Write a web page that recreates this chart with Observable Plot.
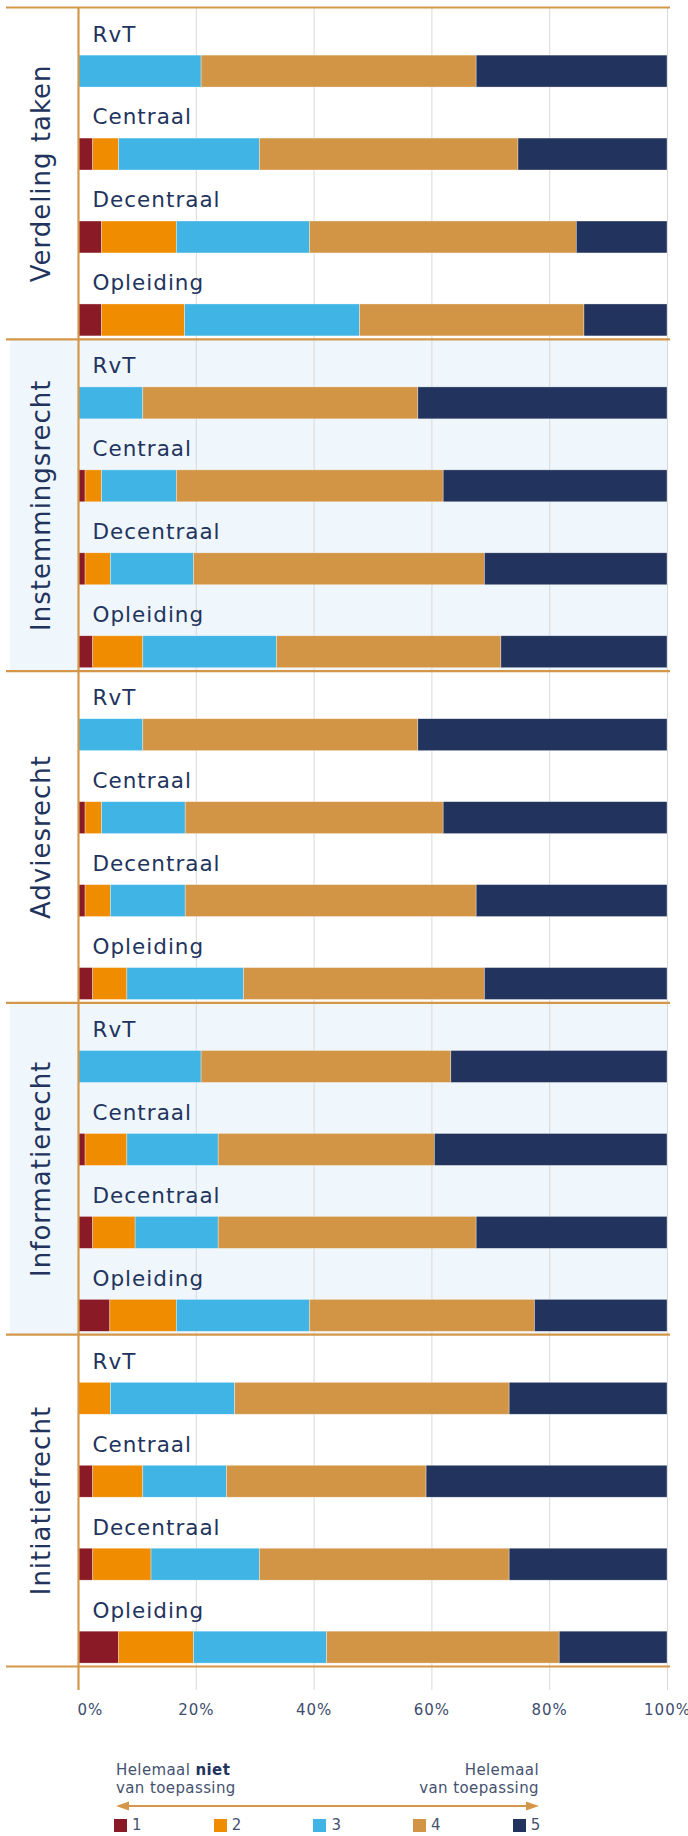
<!DOCTYPE html>
<html>
<head>
<meta charset="utf-8">
<script src="https://cdn.jsdelivr.net/npm/d3@7"></script>
<script src="https://cdn.jsdelivr.net/npm/@observablehq/plot@0.6"></script>
<style>
  html, body { margin: 0; padding: 0; background: #ffffff; }
  body { width: 688px; font-family: "DejaVu Sans", sans-serif; }
  #chart svg { display: block; }
  #chart svg text { letter-spacing: 1px; }
  #legend { position: relative; width: 688px; height: 106px; overflow: hidden; }
  .lg-text { position: absolute; font-size: 15px; line-height: 18px; color: #45526f; letter-spacing: 0.4px; white-space: nowrap; }
  .lg-text b { color: #22345d; }
  .sw { position: absolute; display: flex; align-items: flex-start; font-size: 15px; color: #45526f; line-height: 15px; }
  .sw span.box { display: inline-block; width: 13px; height: 13px; margin-right: 5px; margin-top: 1px; }
</style>
</head>
<body>
<div id="chart"></div>
<div id="legend">
  <div class="lg-text" style="left:116px; top:31px;">Helemaal <b>niet</b><br>van toepassing</div>
  <div class="lg-text" style="right:149px; top:31px; text-align:right;">Helemaal<br>van toepassing</div>
  <svg style="position:absolute; left:114px; top:70px;" width="427" height="12">
    <line x1="10" y1="6" x2="417" y2="6" stroke="#d4974a" stroke-width="2"></line>
    <path d="M2,6 L15,1.5 L15,10.5 Z" fill="#d4974a"></path>
    <path d="M425,6 L412,1.5 L412,10.5 Z" fill="#d4974a"></path>
  </svg>
</div>
<script>
// ---- data ----
const groups = ["Verdeling taken", "Instemmingsrecht", "Adviesrecht", "Informatierecht", "Initiatiefrecht"];
const rows = ["RvT", "Centraal", "Decentraal", "Opleiding"];
const scores = ["1", "2", "3", "4", "5"];
const scoreColors = ["#8a1b26", "#f08c00", "#41b4e6", "#d29546", "#22345d"];
const shadedGroups = ["Instemmingsrecht", "Informatierecht"];
const xTicks = [0, 0.2, 0.4, 0.6, 0.8, 1];

// percentages per row: [score1, score2, score3, score4, score5]
const verdelingTaken = [
  [0, 0, 20.9, 46.7, 32.4],
  [2.5, 4.4, 23.9, 43.9, 25.3],
  [4.0, 12.7, 22.6, 45.3, 15.4],
  [4.0, 14.1, 29.7, 38.1, 14.1]
];
const instemmingsrecht = [
  [0, 0, 11.0, 46.7, 42.3],
  [1.2, 2.8, 12.7, 45.3, 38.0],
  [1.2, 4.3, 14.1, 49.4, 31.0],
  [2.5, 8.5, 22.7, 38.1, 28.2]
];
const adviesrecht = [
  [0, 0, 11.0, 46.7, 42.3],
  [1.2, 2.8, 14.2, 43.8, 38.0],
  [1.2, 4.3, 12.7, 49.4, 32.4],
  [2.5, 5.8, 19.8, 40.9, 31.0]
];
const informatierecht = [
  [0, 0, 20.9, 42.4, 36.7],
  [1.2, 7.1, 15.5, 36.7, 39.5],
  [2.5, 7.2, 14.1, 43.8, 32.4],
  [5.4, 11.3, 22.6, 38.2, 22.5]
];
const initiatiefrecht = [
  [0, 5.5, 21.1, 46.6, 26.8],
  [2.5, 8.5, 14.2, 33.9, 40.9],
  [2.5, 9.9, 18.4, 42.4, 26.8],
  [6.9, 12.7, 22.6, 39.5, 18.3]
];

// ---- tables built from the arrays ----
const groupValues = [verdelingTaken, instemmingsrecht, adviesrecht, informatierecht, initiatiefrecht];
const nRows = rows.length;
const table = [];
groups.forEach((g, gi) => rows.forEach((r, ri) => scores.forEach((s, si) => {
  table.push({group: g, row: r, score: s, value: groupValues[gi][ri][si], pos: gi * nRows + ri});
})));
const rowTable = groups.flatMap((g, gi) => rows.map((r, ri) => ({group: g, row: r, pos: gi * nRows + ri})));
const groupTable = groups.map((g, gi) => ({group: g, start: gi * nRows, end: (gi + 1) * nRows}));
const bounds = d3.range(groups.length + 1).map(i => i * nRows);

const navy = "#22345d";
const gold = "#d4974a";
const pct = d3.format(".0%");

const chart = Plot.plot({
  width: 688,
  height: 1730,
  marginTop: 7,
  marginBottom: 64,
  marginLeft: 78,
  marginRight: 21,
  style: {fontFamily: "DejaVu Sans, sans-serif", background: "transparent", overflow: "visible"},
  x: {domain: [0, 1], axis: null},
  y: {domain: [0, groups.length * nRows], reverse: true, axis: null},
  color: {domain: scores, range: scoreColors},
  marks: [
    Plot.rect(groupTable.filter(d => shadedGroups.includes(d.group)), {
      y1: "start", y2: "end", fill: "#eff6fc", insetLeft: -68
    }),
    Plot.ruleX(xTicks.slice(1), {stroke: "#d9d9d9", strokeWidth: 1, insetBottom: -24}),
    Plot.rect(table, Plot.stackX({
      offset: "normalize",
      x: "value",
      y1: d => d.pos + 0.58,
      y2: d => d.pos + 0.965,
      fill: "score",
      stroke: "#ffffff",
      strokeOpacity: 0.55,
      strokeWidth: 0.6
    })),
    Plot.ruleY(bounds, {y: d => d, stroke: gold, strokeWidth: 2.2, insetLeft: -72, insetRight: -3}),
    Plot.ruleX([0], {stroke: gold, strokeWidth: 2.2, insetBottom: -24}),
    Plot.text(rowTable, {
      y: d => d.pos + 0.41, text: "row", frameAnchor: "left", dx: 14,
      textAnchor: "start", lineAnchor: "bottom", fontSize: 21.5, fill: navy
    }),
    Plot.text(groupTable, {
      y: d => (d.start + d.end) / 2, text: "group", frameAnchor: "left", dx: -37,
      textAnchor: "middle", lineAnchor: "middle",
      rotate: -90, fontSize: 26, fill: navy
    }),
    Plot.text(xTicks.slice(1), {
      x: d => d, text: d => pct(d), frameAnchor: "bottom", dy: 48,
      lineAnchor: "bottom", fontSize: 15, fill: "#3d4c6e"
    }),
    Plot.text(xTicks.slice(0, 1), {
      x: d => d, text: d => pct(d), frameAnchor: "bottom", dy: 48, dx: -1,
      textAnchor: "start", lineAnchor: "bottom", fontSize: 15, fill: "#3d4c6e"
    })
  ]
});
document.getElementById("chart").appendChild(chart);

// legend swatches from the same score arrays
const legend = document.getElementById("legend");
scores.forEach((s, i) => {
  const item = document.createElement("div");
  item.className = "sw";
  item.style.left = (114 + i * 99.7) + "px";
  item.style.top = "88px";
  const box = document.createElement("span");
  box.className = "box";
  box.style.background = scoreColors[i];
  const lab = document.createElement("span");
  lab.textContent = s;
  item.appendChild(box);
  item.appendChild(lab);
  legend.appendChild(item);
});
</script>
</body>
</html>
